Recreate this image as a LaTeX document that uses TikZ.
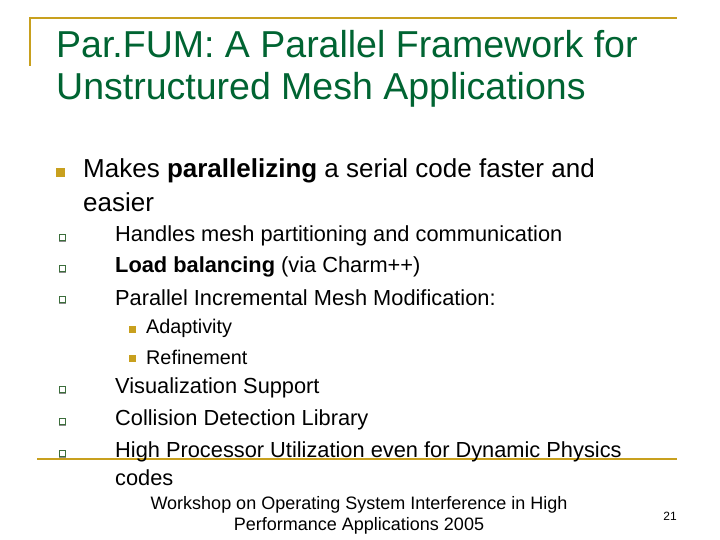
\documentclass[tikz,border=0pt]{standalone}
\usepackage{fontspec}
\setmainfont{Liberation Sans}
\definecolor{ttl}{RGB}{0,100,50}
\definecolor{gold}{RGB}{200,160,30}
\definecolor{bgreen}{RGB}{60,110,60}
\begin{document}
\begin{tikzpicture}[x=1pt,y=-1pt,
  tt/.style={anchor=west,inner sep=0pt,text=ttl,font=\fontsize{37.5}{42}\selectfont},
  t1/.style={anchor=west,inner sep=0pt,font=\fontsize{26}{30}\selectfont},
  t2/.style={anchor=west,inner sep=0pt,font=\fontsize{21.8}{26}\selectfont},
  t3/.style={anchor=west,inner sep=0pt,font=\fontsize{19.8}{23}\selectfont},
  bulA/.style={fill=gold,minimum size=9pt,inner sep=0pt},
  bulB/.style={draw=bgreen,fill=white,minimum size=6pt,inner sep=0pt,line width=0.8pt},
  bulC/.style={fill=gold,minimum size=7pt,inner sep=0pt}]
\useasboundingbox (0,0) rectangle (720,540);
\fill[white] (0,0) rectangle (720,540);
\draw[gold,line width=2.5pt] (30,18) -- (677,18);
\draw[gold,line width=2.5pt] (30,17) -- (30,66);
\draw[gold,line width=2.5pt] (37,459) -- (677,459);
\node[tt] (ti1) at (56,44) {Par.FUM: A Parallel Framework for};
\node[tt] (ti2) at (56,90) {Unstructured Mesh Applications};
\node[bulA] (b0) at (60,173) {};
\node[t1] (m1) at (83,171) {Makes \textbf{parallelizing} a serial code faster and};
\node[t1] (m2) at (83,202) {easier};
\foreach \y/\txt [count=\i] in {236/{Handles mesh partitioning and communication},
  267/{\textbf{Load balancing} (via Charm++)},
  298/{Parallel Incremental Mesh Modification:},
  388/{Visualization Support},
  420/{Collision Detection Library},
  452/{High Processor Utilization even for Dynamic Physics}}{
  \fill[black!45] (59,\y-1) rectangle (66,\y+6);
  \node[bulB] (s\i) at (62,\y+1) {};
  \node[t2] (l\i) at (115,\y) {\txt};
}
\node[t2] (l7) at (115,478) {codes};
\node[bulC] (c1) at (132,329) {};
\node[t3] (a1) at (146,328) {Adaptivity};
\node[bulC] (c2) at (132,358) {};
\node[t3] (a2) at (146,357) {Refinement};
\node[align=center,inner sep=0pt,font=\fontsize{18}{21}\selectfont] (ft) at (359,515) {Workshop on Operating System Interference in High\\Performance Applications 2005};
\node[inner sep=0pt,font=\fontsize{12}{14}\selectfont] (pg) at (670,516) {21};
\end{tikzpicture}
\end{document}
